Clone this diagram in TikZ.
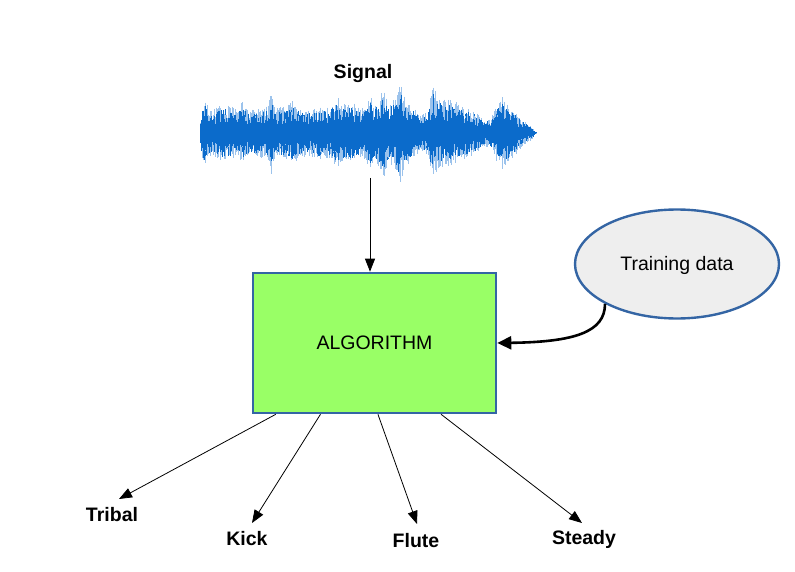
\documentclass[tikz,border=0pt]{standalone}
\usepackage{fontspec}
\setmainfont{Liberation Sans}
\usetikzlibrary{shapes.geometric,arrows.meta,calc}
\definecolor{wavedark}{HTML}{0B6BCB}
\definecolor{wavelight}{HTML}{9CC3EC}
\definecolor{bordblue}{HTML}{3465A4}
\definecolor{algogreen}{HTML}{99FF66}
\definecolor{ellgray}{HTML}{EEEEEE}
\tikzset{
  lbl/.style={font=\fontsize{19.5}{22}\selectfont\bfseries, inner sep=0pt},
  plain/.style={font=\fontsize{19.5}{22}\selectfont, inner sep=0pt},
  thinarrow/.style={draw=black, line width=0.8pt, -{Triangle[length=13pt,width=10pt]}},
  thickarrow/.style={draw=black, line width=2.6pt, -{Triangle[length=14pt,width=13pt]}},
}
\begin{document}
\begin{tikzpicture}[x=1pt,y=-1pt]
\useasboundingbox (0,0) rectangle (795,572);
% waveform
\pgfmathsetseed{4711}
\foreach \xa/\aa/\xb/\ab in {200/8/202/24, 202/24/205/34, 205/34/208/24, 208/24/215/25, 215/25/222/29, 222/29/230/27, 230/27/238/23, 238/23/242/32, 242/32/247/25, 247/25/255/23, 255/23/262/25, 262/25/268/28, 268/28/271/44, 271/44/274/26, 274/26/285/26, 285/26/292/32, 292/32/300/25, 300/25/310/23, 310/23/320/28, 320/28/327/25, 327/25/335/32, 335/32/338/40, 338/40/342/30, 342/30/352/31, 352/31/358/26, 358/26/365/27, 365/27/370/38, 370/38/375/29, 375/29/384/44, 384/44/388/31, 388/31/395/34, 395/34/400/54, 400/54/405/34, 405/34/412/28, 412/28/420/18, 420/18/428/22, 428/22/433/50, 433/50/437/36, 437/36/445/34, 445/34/455/32, 455/32/465/26, 465/26/475/22, 475/22/483/14, 483/14/490/14, 490/14/497/30, 497/30/502/36, 502/36/508/30, 508/30/515/22, 515/22/522/14, 522/14/530/8, 530/8/536/1} {
  \pgfmathsetmacro{\n}{int((\xb-\xa)/0.6)}
  \foreach \i in {0,...,\n} {
    \pgfmathsetmacro{\xx}{\xa+\i*0.6}
    \pgfmathsetmacro{\env}{\aa+(\ab-\aa)*\i*0.6/(\xb-\xa)}
    \pgfmathsetmacro{\up}{\env*(0.45+0.55*rnd)}
    \pgfmathsetmacro{\dn}{\env*(0.45+0.55*rnd)}
    \pgfmathsetmacro{\ud}{\env*(0.35+0.5*rnd)}
    \pgfmathsetmacro{\dd}{\env*(0.35+0.5*rnd)}
    \draw[wavelight, line width=0.6pt] (\xx,133-\up) -- (\xx,133+\dn);
    \draw[wavedark, line width=0.7pt] (\xx,133-\ud) -- (\xx,133+\dd);
  }
}
\node[lbl] (signal) at (363,74) {Signal};
\coordinate (sigout) at (370,178);
% algorithm box
\node[draw=bordblue, line width=2.6pt, fill=algogreen, minimum width=243pt, minimum height=140pt, inner sep=0pt] (alg) at (374.5,343) {};
\node[plain] (algtxt) at (alg.center) {ALGORITHM};
% training data
\node[ellipse, draw=bordblue, line width=2.4pt, fill=ellgray, minimum width=204pt, minimum height=109pt, inner sep=0pt] (train) at (677,264) {};
\node[plain] (traintxt) at (677,265) {Training data};
% labels
\node[lbl] (tribal) at (112,515) {Tribal};
\node[lbl] (kick) at (247,539) {Kick};
\node[lbl] (flute) at (416,541) {Flute};
\node[lbl] (steady) at (584,539) {Steady};
\coordinate (tTribal) at (119,499);
\coordinate (tKick) at (252,523);
\coordinate (tFlute) at (417,524);
\coordinate (tSteady) at (582,523);
% connectors
\draw[thinarrow] (sigout) -- (alg.north -| sigout);
\draw[thickarrow] (train.{-151}) .. controls ($(train.{-151})+(0,28)$) and (575,342) .. (alg.east |- 0,343);
\draw[thinarrow] ($(alg.south west)!0.098!(alg.south east)$) -- (tTribal);
\draw[thinarrow] ($(alg.south west)!0.28!(alg.south east)$) -- (tKick);
\draw[thinarrow] ($(alg.south west)!0.514!(alg.south east)$) -- (tFlute);
\draw[thinarrow] ($(alg.south west)!0.771!(alg.south east)$) -- (tSteady);
\end{tikzpicture}
\end{document}
